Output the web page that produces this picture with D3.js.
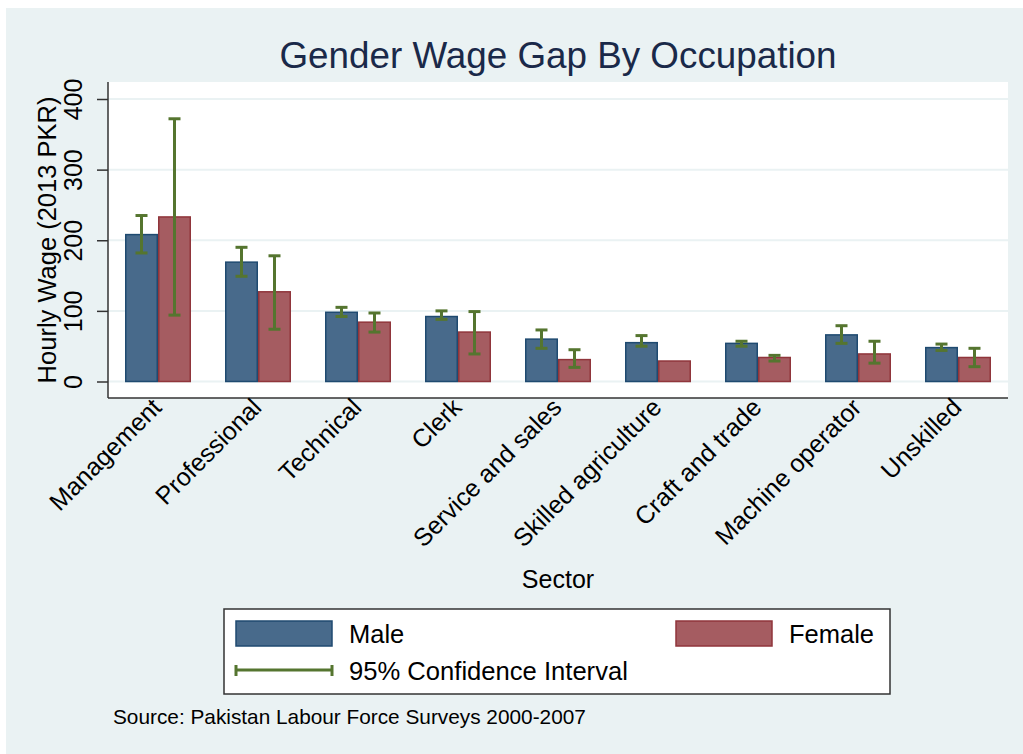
<!DOCTYPE html>
<html>
<head>
<meta charset="utf-8">
<script src="https://cdn.jsdelivr.net/npm/d3@7"></script>
<style>
  body { margin: 0; background: #fff; }
  svg { display: block; font-family: "Liberation Sans", Arial, sans-serif; }
</style>
</head>
<body>
<svg id="chart"></svg>
<script>
// values
const sectors = ['Management', 'Professional', 'Technical', 'Clerk', 'Service and sales',
                 'Skilled agriculture', 'Craft and trade', 'Machine operator', 'Unskilled'];
const maleWage   = [208, 169, 98, 92, 60, 55, 54, 66, 48];
const femaleWage = [233, 127, 84, 70, 31, 29, 34, 39, 34];
const maleLo   = [182, 149, 92, 88, 47, 50, 50, 54, 44];
const maleHi   = [235, 190, 105, 100, 73, 65, 57, 79, 53];
const femaleLo = [94, 74, 70, 39, 20, null, 29, 26, 21];
const femaleHi = [372, 178, 97, 99, 45, null, 37, 57, 47];
const yTicks = [0, 100, 200, 300, 400];

const width = 1023, height = 754;
const plot = {left: 108, right: 1008, top: 82, bottom: 398};
const maleFill = '#486a8b', maleStroke = '#1f4a70';
const femaleFill = '#a55c61', femaleStroke = '#90353b';
const ciColor = '#55752f';
const bg = '#eaf2f3';

const svg = d3.select('#chart')
    .attr('width', width)
    .attr('height', height);

svg.append('rect')
    .attr('x', 6).attr('y', 8)
    .attr('width', width - 6).attr('height', height - 8)
    .attr('fill', bg);

svg.append('rect')
    .attr('x', plot.left).attr('y', plot.top)
    .attr('width', plot.right - plot.left).attr('height', plot.bottom - plot.top)
    .attr('fill', '#fff');

const x = d3.scaleBand()
    .domain(sectors)
    .range([plot.left, plot.right])
    .paddingInner(0.34)
    .paddingOuter(0.17);

const xs = d3.scaleBand()
    .domain(['Male', 'Female'])
    .range([0, x.bandwidth()]);

const y = d3.scaleLinear()
    .domain([0, 400])
    .range([381.5, 99]);

// gridlines
svg.append('g')
    .selectAll('line')
    .data(yTicks)
    .join('line')
    .attr('x1', plot.left).attr('x2', plot.right)
    .attr('y1', d => y(d)).attr('y2', d => y(d))
    .attr('stroke', bg)
    .attr('stroke-width', 2);

const rows = sectors.map((s, i) => ({
    sector: s,
    bars: [
        {key: 'Male', value: maleWage[i], lo: maleLo[i], hi: maleHi[i]},
        {key: 'Female', value: femaleWage[i], lo: femaleLo[i], hi: femaleHi[i]}
    ]
}));

const groups = svg.append('g')
    .selectAll('g')
    .data(rows)
    .join('g')
    .attr('transform', d => `translate(${x(d.sector)},0)`);

groups.selectAll('rect')
    .data(d => d.bars)
    .join('rect')
    .attr('x', d => xs(d.key) + 0.75)
    .attr('width', xs.bandwidth() - 1.5)
    .attr('y', d => y(d.value))
    .attr('height', d => y(0) - y(d.value))
    .attr('fill', d => d.key === 'Male' ? maleFill : femaleFill)
    .attr('stroke', d => d.key === 'Male' ? maleStroke : femaleStroke)
    .attr('stroke-width', 1.5);

// confidence intervals
const capW = 12;
const ci = groups.selectAll('g.ci')
    .data(d => d.bars.filter(b => b.lo != null))
    .join('g')
    .attr('class', 'ci')
    .attr('stroke', ciColor)
    .attr('stroke-width', 3);

ci.append('line')
    .attr('x1', d => xs(d.key) + xs.bandwidth() / 2)
    .attr('x2', d => xs(d.key) + xs.bandwidth() / 2)
    .attr('y1', d => y(d.lo))
    .attr('y2', d => y(d.hi));

ci.selectAll('line.cap')
    .data(d => [{key: d.key, v: d.lo}, {key: d.key, v: d.hi}])
    .join('line')
    .attr('class', 'cap')
    .attr('x1', d => xs(d.key) + xs.bandwidth() / 2 - capW / 2)
    .attr('x2', d => xs(d.key) + xs.bandwidth() / 2 + capW / 2)
    .attr('y1', d => y(d.v))
    .attr('y2', d => y(d.v));

// y axis
const yAxis = svg.append('g')
    .attr('transform', `translate(${plot.left},0)`)
    .call(d3.axisLeft(y).tickValues(yTicks).tickSize(11).tickFormat(d3.format('d')));
yAxis.select('.domain').remove();
yAxis.selectAll('.tick line').attr('stroke', '#333').attr('stroke-width', 1.5);
yAxis.selectAll('.tick text')
    .attr('x', null).attr('dy', null)
    .attr('transform', 'translate(-26,0) rotate(-90)')
    .attr('text-anchor', 'middle')
    .style('font-size', '25px')
    .attr('fill', '#000');

svg.append('line')
    .attr('x1', plot.left).attr('x2', plot.left)
    .attr('y1', plot.top).attr('y2', plot.bottom)
    .attr('stroke', '#333').attr('stroke-width', 1.5);

// x axis
svg.append('line')
    .attr('x1', plot.left).attr('x2', plot.right)
    .attr('y1', plot.bottom).attr('y2', plot.bottom)
    .attr('stroke', '#333').attr('stroke-width', 1.5);

svg.append('g')
    .selectAll('text')
    .data(sectors)
    .join('text')
    .attr('transform', d => `translate(${x(d) + x.bandwidth() / 2 + 5},409) rotate(-45)`)
    .attr('text-anchor', 'end')
    .style('font-size', '25px')
    .text(d => d);

// titles
svg.append('text')
    .attr('x', (plot.left + plot.right) / 2)
    .attr('y', 68)
    .attr('text-anchor', 'middle')
    .attr('fill', '#1a2949')
    .style('font-size', '36.8px')
    .text('Gender Wage Gap By Occupation');

svg.append('text')
    .attr('transform', `translate(56,${(plot.top + plot.bottom) / 2}) rotate(-90)`)
    .attr('text-anchor', 'middle')
    .style('font-size', '25.5px')
    .text('Hourly Wage (2013 PKR)');

svg.append('text')
    .attr('x', (plot.left + plot.right) / 2)
    .attr('y', 588)
    .attr('text-anchor', 'middle')
    .style('font-size', '25px')
    .text('Sector');

// legend
const legend = svg.append('g');
legend.append('rect')
    .attr('x', 224).attr('y', 609)
    .attr('width', 666).attr('height', 85)
    .attr('fill', '#fff')
    .attr('stroke', '#333')
    .attr('stroke-width', 1.5);

const legendItems = [
    {label: 'Male', fill: maleFill, stroke: maleStroke, x: 236},
    {label: 'Female', fill: femaleFill, stroke: femaleStroke, x: 676}
];
legend.selectAll('rect.sw')
    .data(legendItems)
    .join('rect')
    .attr('class', 'sw')
    .attr('x', d => d.x).attr('y', 621)
    .attr('width', 96).attr('height', 25)
    .attr('fill', d => d.fill)
    .attr('stroke', d => d.stroke)
    .attr('stroke-width', 1.5);
legend.selectAll('text.lb')
    .data(legendItems)
    .join('text')
    .attr('class', 'lb')
    .attr('x', d => d.x + 113).attr('y', 643)
    .style('font-size', '25.5px')
    .text(d => d.label);

const ciLeg = legend.append('g').attr('stroke', ciColor).attr('stroke-width', 3);
ciLeg.append('line').attr('x1', 236).attr('x2', 332).attr('y1', 670).attr('y2', 670);
ciLeg.append('line').attr('x1', 236).attr('x2', 236).attr('y1', 665).attr('y2', 676);
ciLeg.append('line').attr('x1', 332).attr('x2', 332).attr('y1', 665).attr('y2', 676);
legend.append('text')
    .attr('x', 349).attr('y', 680)
    .style('font-size', '25.6px')
    .text('95% Confidence Interval');

svg.append('text')
    .attr('x', 113).attr('y', 724)
    .style('font-size', '20.8px')
    .text('Source: Pakistan Labour Force Surveys 2000-2007');
</script>
</body>
</html>
